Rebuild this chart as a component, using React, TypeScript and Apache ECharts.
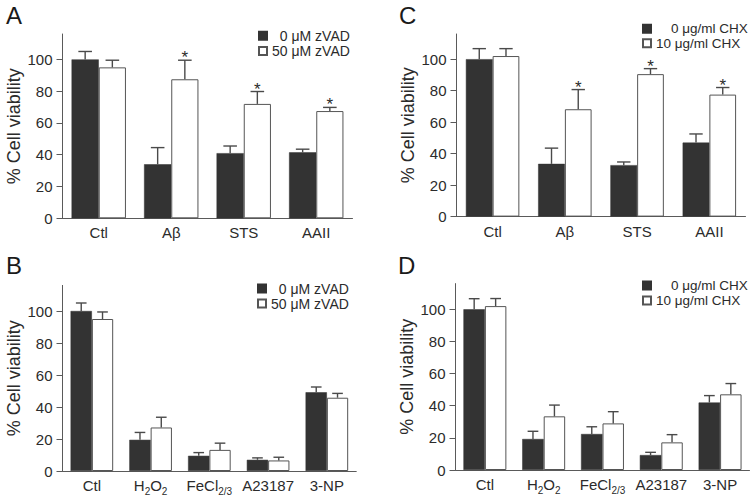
import React, { useEffect, useRef } from 'react';
import * as echarts from 'echarts';

const FONT = '"Liberation Sans", Arial, Helvetica, sans-serif';
const TXT = '#2b2b2b';
const AXIS = '#5a5a5a';

const catsTop = ['Ctl', 'Aβ', 'STS', 'AAII'];
const catsBottom = ['Ctl', 'H2O2', 'FeCl2/3', 'A23187', '3-NP'];
const yTicks = [0, 20, 40, 60, 80, 100];

const zvadNames = ['0 μM zVAD', '50 μM zVAD'];
const chxNames = ['0 μg/ml CHX', '10 μg/ml CHX'];

// Panel A (zVAD, apoptotic insults)
const aNone = [100, 34, 41, 41.5];
const aNoneErr = [5, 10.5, 4.5, 2];
const aZvad = [95, 87.5, 72, 67.5];
const aZvadErr = [4.5, 12, 7.8, 2.3];
const aSig = [0, 1, 1, 1];

// Panel B (zVAD, other insults)
const bNone = [100, 19.5, 9.5, 7, 49.2];
const bNoneErr = [5, 4.6, 2, 1.2, 3.3];
const bZvad = [95, 27.2, 13.2, 6.6, 45.8];
const bZvadErr = [4.4, 6.4, 4.2, 2, 2.7];
const bSig = [0, 0, 0, 0, 0];

// Panel C (CHX, apoptotic insults)
const cNone = [100, 33.5, 32.7, 47];
const cNoneErr = [6.7, 10, 2, 5.5];
const cChx = [102, 68.2, 90.5, 77.5];
const cChxErr = [4.7, 12.5, 3.5, 4.5];
const cSig = [0, 1, 1, 1];

// Panel D (CHX, other insults)
const dNone = [100, 19.3, 22.4, 9.3, 42];
const dNoneErr = [6.6, 4.8, 4.5, 1.7, 4.3];
const dChx = [102, 33.4, 29, 17.2, 47.1];
const dChxErr = [4.7, 7, 7.3, 4.8, 6.7];
const dSig = [0, 0, 0, 0, 0];

type Panel = {
  grid: { left: number; top: number; width: number; height: number };
  cats: string[];
  names: string[];
  none: number[];
  noneErr: number[];
  trt: number[];
  trtErr: number[];
  sig: number[];
  gap: number;
  legend: { left: number; top: number; lineHeight: number; fontSize: number; pad: string[] };
};

const panels: Panel[] = [
  {
    grid: { left: 62.5, top: 34, width: 290, height: 184.3 },
    cats: catsTop, names: zvadNames,
    none: aNone, noneErr: aNoneErr, trt: aZvad, trtErr: aZvadErr, sig: aSig,
    gap: 0.25,
    legend: { left: 258, top: 28, lineHeight: 15.3, fontSize: 14, pad: ['\u2007', ''] },
  },
  {
    grid: { left: 62.5, top: 285.4, width: 293.75, height: 185.6 },
    cats: catsBottom, names: zvadNames,
    none: bNone, noneErr: bNoneErr, trt: bZvad, trtErr: bZvadErr, sig: bSig,
    gap: 0.275,
    legend: { left: 257, top: 281, lineHeight: 15, fontSize: 14, pad: ['\u2007', ''] },
  },
  {
    grid: { left: 456.5, top: 34, width: 289, height: 182.6 },
    cats: catsTop, names: chxNames,
    none: cNone, noneErr: cNoneErr, trt: cChx, trtErr: cChxErr, sig: cSig,
    gap: 0.26,
    legend: { left: 642, top: 21.5, lineHeight: 14.5, fontSize: 13.5, pad: ['\u2007\u2007', ''] },
  },
  {
    grid: { left: 455.5, top: 283.6, width: 294, height: 186.4 },
    cats: catsBottom, names: chxNames,
    none: dNone, noneErr: dNoneErr, trt: dChx, trtErr: dChxErr, sig: dSig,
    gap: 0.27,
    legend: { left: 642, top: 278, lineHeight: 15, fontSize: 13.5, pad: ['\u2007\u2007', ''] },
  },
];

function catLabel(v: string): string {
  if (v === 'H2O2') return '{n|H}{s|2}{n|O}{s|2}';
  if (v === 'FeCl2/3') return '{n|FeCl}{s|2/3}';
  return '{n|' + v + '}';
}

function makeErr(gap: number) {
  return (_params: any, api: any) => {
    const cat = api.value(0);
    const v = api.value(1);
    const e = api.value(2);
    const s = api.value(3);
    const sig = api.value(4);
    const base = api.coord([cat, v]);
    const top = api.coord([cat, v + e]);
    const band = api.size([1, 0])[0];
    const bw = (band * (1 - gap)) / 2;
    const x = base[0] + (s === 0 ? -bw / 2 : bw / 2);
    const cap = bw * 0.25;
    const st = { stroke: '#4a4a4a', lineWidth: 1.4 };
    const children: any[] = [
      { type: 'line', shape: { x1: x, y1: base[1], x2: x, y2: top[1] }, style: st },
      { type: 'line', shape: { x1: x - cap, y1: top[1], x2: x + cap, y2: top[1] }, style: st },
    ];
    if (sig) {
      children.push({
        type: 'text',
        x,
        y: top[1] - 11,
        style: { text: '*', fontSize: 17, fill: TXT, align: 'center', verticalAlign: 'top', fontFamily: FONT },
      });
    }
    return { type: 'group', children };
  };
}

export default function App() {
  const ref = useRef<HTMLDivElement>(null);

  useEffect(() => {
    if (!ref.current) return;
    const chart = echarts.init(ref.current, undefined, { renderer: 'svg' });

    const grid: any[] = [];
    const xAxis: any[] = [];
    const yAxis: any[] = [];
    const series: any[] = [];
    const legend: any[] = [];

    panels.forEach((p, gi) => {
      grid.push({ ...p.grid, containLabel: false });
      xAxis.push({
        type: 'category',
        gridIndex: gi,
        data: p.cats,
        axisLine: { show: true, lineStyle: { color: AXIS, width: 1 } },
        axisTick: { show: false },
        axisLabel: {
          interval: 0,
          margin: 4,
          formatter: (v: string) => catLabel(v),
          rich: {
            n: { fontSize: 15, lineHeight: 21, color: TXT, fontFamily: FONT },
            s: { fontSize: 10, lineHeight: 10, padding: [11, 0, 0, 0], color: TXT, fontFamily: FONT },
          },
        },
      });
      yAxis.push({
        type: 'value',
        gridIndex: gi,
        min: 0,
        max: 116,
        name: '% Cell viability',
        nameLocation: 'middle',
        nameGap: 40,
        nameTextStyle: { fontSize: 18, color: TXT, fontFamily: FONT },
        axisLine: { show: true, lineStyle: { color: AXIS, width: 1 } },
        axisTick: { show: true, length: 6, customValues: yTicks, lineStyle: { color: AXIS } },
        axisLabel: { customValues: yTicks, fontSize: 15, color: TXT, fontFamily: FONT, margin: 10 },
        splitLine: { show: false },
      });
      const gapPct = Math.round(p.gap * 1000) / 10 + '%';
      series.push({
        type: 'bar',
        name: p.names[0],
        xAxisIndex: gi,
        yAxisIndex: gi,
        data: p.none,
        barGap: '0%',
        barCategoryGap: gapPct,
        itemStyle: { color: '#333333', borderColor: '#333333', borderWidth: 0.5 },
      });
      series.push({
        type: 'bar',
        name: p.names[1],
        xAxisIndex: gi,
        yAxisIndex: gi,
        data: p.trt,
        barGap: '0%',
        barCategoryGap: gapPct,
        itemStyle: { color: '#ffffff', borderColor: '#555555', borderWidth: 1 },
      });
      const errData: any[] = [];
      p.cats.forEach((_c, i) => {
        errData.push([i, p.none[i], p.noneErr[i], 0, 0]);
        errData.push([i, p.trt[i], p.trtErr[i], 1, p.sig[i]]);
      });
      series.push({
        type: 'custom',
        xAxisIndex: gi,
        yAxisIndex: gi,
        data: errData,
        encode: { x: 0, y: 1 },
        clip: false,
        z: 5,
        renderItem: makeErr(p.gap),
      });
      const pad = p.legend.pad;
      const names = p.names;
      legend.push({
        data: names,
        orient: 'vertical',
        left: p.legend.left,
        top: p.legend.top,
        padding: 0,
        itemGap: 0,
        itemWidth: 8,
        itemHeight: 8,
        icon: 'rect',
        selectedMode: false,
        formatter: (n: string) => (n === names[0] ? pad[0] : pad[1]) + n,
        textStyle: { fontSize: p.legend.fontSize, lineHeight: p.legend.lineHeight, color: TXT, fontFamily: FONT },
      });
    });

    const letter = (t: string, x: number, y: number) => ({
      type: 'text',
      x,
      y,
      style: { text: t, fontSize: 24, fill: '#1a1a1a', fontFamily: FONT, verticalAlign: 'top', align: 'left' },
    });

    chart.setOption({
      animation: false,
      backgroundColor: '#ffffff',
      grid,
      xAxis,
      yAxis,
      series,
      legend,
      graphic: [letter('A', 6, 3), letter('B', 6, 253), letter('C', 399, 3), letter('D', 398, 253)],
    });

    return () => chart.dispose();
  }, []);

  return (
    <div
      ref={ref}
      style={{ position: 'fixed', left: 0, top: 0, width: 754, height: 498, background: '#fff' }}
    />
  );
}
